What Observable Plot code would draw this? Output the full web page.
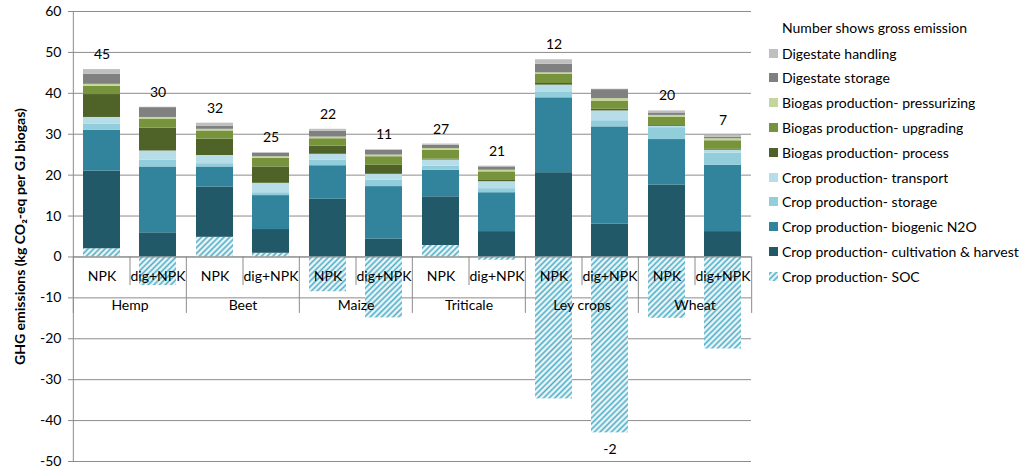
<!DOCTYPE html>
<html>
<head>
<meta charset="utf-8">
<script src="https://cdn.jsdelivr.net/npm/d3@7"></script>
<script src="https://cdn.jsdelivr.net/npm/@observablehq/plot@0.6"></script>
<style>
  html, body { margin: 0; padding: 0; background: #fff; }
  #wrap { position: relative; width: 1024px; height: 472px; font-family: Lato, "Open Sans", sans-serif; }
  #legend { position: absolute; left: 769px; top: 16px; }
  #legend .title { padding-left: 13px; line-height: 24.8px; font-size: 14px; color: #000; }
  .lg-swatch { height: 24.8px !important; padding-bottom: 0 !important; margin: 0 !important; }
  .lg-swatch svg { margin-right: 4px !important; }
</style>
</head>
<body>
<svg width="0" height="0" style="position:absolute">
  <defs>
    <pattern id="socHatch" patternUnits="userSpaceOnUse" width="4" height="4" patternTransform="rotate(45)">
      <rect width="4" height="4" fill="#fff"/>
      <line x1="1.5" y1="0" x2="1.5" y2="4" stroke="#4bacc6" stroke-width="1.8"/>
    </pattern>
  </defs>
</svg>
<div id="wrap"></div>
<script>
// ---- data ----
const crops = ["Hemp", "Beet", "Maize", "Triticale", "Ley crops", "Wheat"];
const treatments = ["NPK", "dig+NPK"];
const components = [
  "Crop production- SOC",
  "Crop production- cultivation & harvest",
  "Crop production- biogenic N2O",
  "Crop production- storage",
  "Crop production- transport",
  "Biogas production- process",
  "Biogas production- upgrading",
  "Biogas production- pressurizing",
  "Digestate storage",
  "Digestate handling"
];
const colors = ["url(#socHatch)", "#215968", "#31849b", "#92cddc", "#b7dee8",
                "#4f6228", "#77933c", "#c3d69b", "#808080", "#bfbfbf"];

// order of bars: Hemp NPK, Hemp dig+NPK, Beet NPK, Beet dig+NPK, ...
const soc          = [2.0, -7.0, 4.8, 0.9, -8.5, -14.9, 2.8, -0.8, -34.7, -43.0, -15.0, -22.5];
const cultivation  = [19.0, 5.9, 12.3, 5.8, 14.1, 4.4, 11.9, 6.2, 20.6, 8.0, 17.6, 6.2];
const biogenicN2O  = [10.0, 16.1, 4.9, 8.3, 8.2, 12.8, 6.5, 9.5, 18.3, 23.8, 11.1, 16.2];
const cropStorage  = [1.4, 1.7, 0.8, 0.7, 1.4, 1.6, 1.0, 1.0, 1.3, 1.5, 2.9, 3.0];
const transport    = [1.7, 2.2, 2.0, 2.3, 1.4, 1.4, 1.5, 1.7, 1.8, 2.4, 0.3, 0.7];
const process      = [5.6, 5.6, 4.0, 4.0, 2.0, 2.2, 0.2, 0.3, 0.4, 0.4, 0.2, 0.2];
const upgrading    = [2.0, 2.1, 2.0, 2.1, 1.8, 2.1, 2.2, 2.1, 2.2, 2.0, 2.0, 2.1];
const pressurizing = [0.5, 0.5, 0.4, 0.4, 0.4, 0.4, 0.4, 0.4, 0.4, 0.6, 0.5, 0.5];
const digStorage   = [2.5, 2.4, 0.8, 0.8, 1.4, 1.2, 0.8, 0.8, 2.1, 2.2, 0.6, 0.4];
const digHandling  = [1.1, 0.1, 0.7, 0.2, 0.5, 0.1, 0.3, 0.2, 1.1, 0.1, 0.5, 0.4];
const grossLabels  = [45, 30, 32, 25, 22, 11, 27, 21, 12, -2, 20, 7];
const yTicks = [60, 50, 40, 30, 20, 10, 0, -10, -20, -30, -40, -50];
const yLabel = "GHG emissions (kg CO₂-eq per GJ biogas)";
const legendTitle = "Number shows gross emission";

// ---- build tables ----
const series = [soc, cultivation, biogenicN2O, cropStorage, transport, process,
                upgrading, pressurizing, digStorage, digHandling];
const bars = [];
crops.forEach(c => treatments.forEach(t => bars.push({crop: c, treatment: t})));
const rows = [];
components.forEach((comp, k) => series[k].forEach((v, i) =>
  rows.push({crop: bars[i].crop, treatment: bars[i].treatment, component: comp, value: v})));
const labelRows = bars.map((b, i) => {
  const vals = series.map(s => s[i]);
  return {
    ...b,
    label: String(grossLabels[i]),
    neg: grossLabels[i] < 0,
    top: d3.sum(vals.filter(v => v > 0)),
    bottom: d3.sum(vals.filter(v => v < 0))
  };
});

const W = 1024, H = 472, ML = 72, MR = 272, MT = 11, MB = 11;
const fw = (W - ML - MR) / crops.length;
const sepColor = "#8c8c8c";

const chart = Plot.plot({
  width: W, height: H,
  marginLeft: ML, marginRight: MR, marginTop: MT, marginBottom: MB,
  style: {fontFamily: "Lato, 'Open Sans', sans-serif", fontSize: "14px", color: "#000", background: "#fff"},
  fx: {domain: crops, padding: 0, axis: null},
  x: {domain: treatments, paddingInner: 0.335, paddingOuter: 0.1675, axis: null},
  y: {domain: [-50, 60]},
  color: {domain: components, range: colors},
  marks: [
    Plot.gridY(yTicks, {stroke: sepColor, strokeOpacity: 1}),
    Plot.barY(rows, {fx: "crop", x: "treatment", y: "value", fill: "component", order: components}),
    Plot.axisY(yTicks, {tickSize: 5, tickPadding: 7, stroke: sepColor, label: yLabel,
      tickFormat: d => String(d),
      labelAnchor: "center", labelOffset: 58, labelArrow: "none", fontSize: 14}),
    // y axis line (left facet only)
    Plot.ruleX([crops[0]], {fx: d => d, x: null, dx: -fw / 2, stroke: sepColor}),
    // group separators
    Plot.ruleX(crops, {fx: d => d, x: null, y1: 0, y2: -13.8, dx: -fw / 2, stroke: sepColor}),
    Plot.ruleX([crops[crops.length - 1]], {fx: d => d, x: null, y1: 0, y2: -13.8, dx: fw / 2, stroke: sepColor}),
    // within-group separators
    Plot.ruleX(crops, {fx: d => d, x: null, y1: 0, y2: -7, stroke: sepColor}),
    Plot.ruleY([0], {stroke: sepColor}),
    // category labels
    Plot.text(bars, {fx: "crop", x: "treatment", y: 0, dy: 20, text: "treatment", fontSize: 14}),
    Plot.text(crops, {fx: d => d, y: 0, dy: 49, text: d => d, fontSize: 14}),
    // value labels
    Plot.text(labelRows, {filter: d => !d.neg, fx: "crop", x: "treatment", y: "top", text: "label", dy: -15, fontSize: 14}),
    Plot.text(labelRows, {filter: d => d.neg, fx: "crop", x: "treatment", y: "bottom", text: "label", dy: 17, fontSize: 14})
  ]
});
d3.select(chart).select('g[aria-label="y-axis label"]').attr("font-weight", "bold");

const wrap = document.getElementById("wrap");
wrap.appendChild(chart);

const legendBox = document.createElement("div");
legendBox.id = "legend";
const t = document.createElement("div");
t.className = "title";
t.textContent = legendTitle;
legendBox.appendChild(t);
const lg = Plot.legend({
  color: {domain: components.slice().reverse(), range: colors.slice().reverse()},
  legend: "swatches",
  columns: 1,
  swatchSize: 9,
  className: "lg",
  style: {fontFamily: "Lato, 'Open Sans', sans-serif", fontSize: "14px", color: "#000", margin: "0"}
});
legendBox.appendChild(lg);
wrap.appendChild(legendBox);
</script>
</body>
</html>
